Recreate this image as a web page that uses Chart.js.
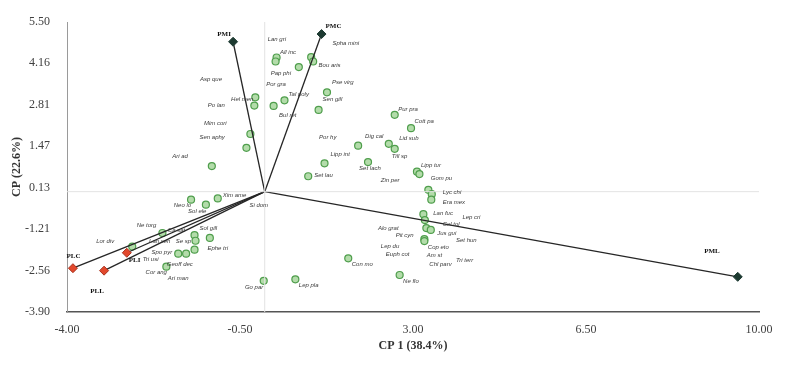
<!DOCTYPE html>
<html>
<head>
<meta charset="utf-8">
<script src="https://cdn.jsdelivr.net/npm/chart.js@4.4.1/dist/chart.umd.min.js"></script>
<style>
  html, body { margin: 0; padding: 0; background: #ffffff; }
  #wrap { width: 787px; height: 367px; }
</style>
</head>
<body>
<div id="wrap"><canvas id="biplot" width="787" height="367"></canvas></div>
<script>
// axis ticks
const xTicks = [-4.00, -0.50, 3.00, 6.50, 10.00];
const yTicks = [-3.90, -2.56, -1.21, 0.13, 1.47, 2.81, 4.16, 5.50];

// species scores (CP1, CP2)
const speciesX = [-0.19, -0.21, -0.29, -0.37, -1.07, 0.24, 0.22, 0.69, 0.94, 0.98,
  0.40, 0.18, 1.26, 1.09, 2.63, 2.96, 1.89, 2.51, 2.63, 1.21,
  0.88, 2.09, 3.08, 3.13, 3.31, 3.38, 3.37, 3.21, 3.24, 3.27,
  3.36, 3.23, 3.23, 2.73, 1.69, 0.62, -0.02, -0.95, -1.49, -1.19,
  -2.07, -1.42, -1.40, -1.11, -1.42, -1.75, -1.59, -2.68, -1.99];
const speciesY = [3.06, 2.79, 1.87, 1.42, 0.83, 4.35, 4.22, 4.04, 4.36, 4.22,
  2.96, 2.78, 3.22, 2.65, 2.49, 2.06, 1.49, 1.55, 1.39, 0.92,
  0.50, 0.96, 0.65, 0.57, 0.06, -0.08, -0.26, -0.73, -0.92, -1.18,
  -1.24, -1.54, -1.60, -2.70, -2.16, -2.84, -2.89, -0.22, -0.26, -0.42,
  -1.34, -1.41, -1.59, -1.50, -1.88, -2.01, -2.01, -1.78, -2.43];

// species labels and where they sit
const labelText = ["Asp que", "Po lan", "Hel men", "Mim cori", "Sen aphy", "Ari ad", "Lan gri", "All inc",
  "Spha mini", "Pap phi", "Bou aris", "Por gra", "Pse virg", "Tal poly", "Sen gill", "Bul ret",
  "Por hy", "Dig cal", "Lipp int", "Set lach", "Set lau", "Pur pra", "Cott pa", "Lid sub",
  "Till sp", "Zin per", "Lipp tur", "Gom pu", "Lyc chi", "Era mex", "Lan fuc", "Lep cri",
  "Cel tol", "Jus gui", "Set hun", "Cop eto", "Am st", "Chl parv", "Tri terr", "Ne flo",
  "Alo grat", "Pit cyn", "Lep du", "Euph cot", "Con mo", "Lep pla", "Go par", "Si dom",
  "Xim ame", "Neo lo", "Sol ele", "Ne torg", "Ca sat", "Sol gill", "Lor div", "Lan sen",
  "Se sp", "Spo pyr", "Ephe tri", "Tri usi", "Geoff dec", "Cor ang", "Ari man"];
const labelX = [-1.31, -1.15, -0.68, -1.23, -1.32, -1.87, 0.06, 0.31,
  1.37, 0.12, 1.09, 0.03, 1.36, 0.48, 1.17, 0.29,
  1.10, 2.03, 1.33, 1.91, 1.00, 2.70, 3.03, 2.72,
  2.57, 2.35, 3.16, 3.36, 3.60, 3.60, 3.41, 4.00,
  3.60, 3.49, 3.87, 3.30, 3.28, 3.33, 3.87, 2.80,
  2.29, 2.65, 2.35, 2.45, 1.76, 0.69, -0.40, -0.31,
  -0.85, -1.84, -1.55, -2.59, -1.96, -1.32, -3.41, -2.34,
  -1.80, -2.29, -1.16, -2.47, -1.98, -2.41, -1.96];
const labelY = [3.65, 2.79, 3.00, 2.20, 1.77, 1.15, 4.94, 4.51,
  4.81, 3.84, 4.08, 3.49, 3.53, 3.14, 3.00, 2.49,
  1.76, 1.81, 1.22, 0.76, 0.52, 2.67, 2.27, 1.73,
  1.13, 0.38, 0.86, 0.44, -0.02, -0.36, -0.70, -0.84,
  -1.05, -1.36, -1.59, -1.79, -2.06, -2.34, -2.21, -2.89,
  -1.20, -1.43, -1.77, -2.04, -2.34, -3.03, -3.10, -0.44,
  -0.11, -0.43, -0.63, -1.08, -1.24, -1.19, -1.61, -1.60,
  -1.60, -1.96, -1.85, -2.19, -2.35, -2.63, -2.82];

// variable vectors
const vectorNames = ["PMI", "PMC", "PML", "PLC", "PLL", "PLI"];
const vectorX = [-0.64, 1.15, 9.57, -3.88, -3.25, -2.79];
const vectorY = [4.86, 5.11, -2.76, -2.48, -2.56, -1.98];
const vectorLabelX = [-0.96, 1.23, 8.89, -4.01, -3.53, -2.75];
const vectorLabelY = [5.10, 5.35, -1.92, -2.08, -3.22, -2.21];

const palette = {
  pointFill: "#b3dcaa",
  pointEdge: "#4f9e4c",
  dark: "#1d3a31",
  red: "#e2482c",
  redEdge: "#a8321e",
  line: "#262626",
  zero: "#e3e3e3",
  text: "#3a3a3a"
};

function vectorDatasets() {
  return vectorNames.map((name, i) => ({
    label: name,
    data: [{ x: 0, y: 0 }, { x: vectorX[i], y: vectorY[i] }],
    showLine: true,
    borderColor: palette.line,
    borderWidth: 1.3,
    pointRadius: [0, 4.5],
    pointStyle: "rectRot",
    pointBackgroundColor: i < 3 ? palette.dark : palette.red,
    pointBorderColor: i < 3 ? palette.dark : palette.redEdge,
    pointBorderWidth: 1
  }));
}

const textPlugin = {
  id: "biplotText",
  afterDatasetsDraw(chart) {
    const { ctx, scales: { x, y } } = chart;
    ctx.save();
    ctx.textAlign = "left";
    ctx.textBaseline = "middle";
    ctx.fillStyle = palette.text;
    ctx.font = "italic 6px 'Liberation Sans'";
    labelText.forEach((text, i) => {
      ctx.fillText(text, x.getPixelForValue(labelX[i]), y.getPixelForValue(labelY[i]));
    });
    ctx.fillStyle = "#111";
    ctx.font = "bold 7px 'Liberation Serif'";
    vectorNames.forEach((name, i) => {
      ctx.fillText(name, x.getPixelForValue(vectorLabelX[i]), y.getPixelForValue(vectorLabelY[i]));
    });
    ctx.restore();
  }
};

const tickFont = { family: "'Liberation Serif'", size: 12 };
const titleFont = { family: "'Liberation Serif'", size: 12, weight: "bold" };

new Chart(document.getElementById("biplot"), {
  type: "scatter",
  data: {
    datasets: [
      {
        label: "zero x",
        data: [{ x: 0, y: -3.9 }, { x: 0, y: 5.5 }],
        showLine: true,
        borderColor: palette.zero,
        borderWidth: 1,
        pointRadius: 0
      },
      {
        label: "zero y",
        data: [{ x: -4, y: 0 }, { x: 10, y: 0 }],
        showLine: true,
        borderColor: palette.zero,
        borderWidth: 1,
        pointRadius: 0
      },
      ...vectorDatasets(),
      {
        label: "species",
        data: speciesX.map((v, i) => ({ x: v, y: speciesY[i] })),
        pointRadius: 3.5,
        pointBackgroundColor: palette.pointFill,
        pointBorderColor: palette.pointEdge,
        pointBorderWidth: 1.2
      }
    ]
  },
  options: {
    responsive: false,
    animation: false,
    layout: { padding: { left: 6, right: 28, top: 22, bottom: 10 } },
    plugins: {
      legend: { display: false },
      tooltip: { enabled: false }
    },
    scales: {
      x: {
        type: "linear",
        min: -4,
        max: 10,
        afterBuildTicks: (scale) => { scale.ticks = xTicks.map((v) => ({ value: v })); },
        afterFit: (scale) => { scale.height = 45; },
        ticks: {
          callback: (v) => Number(v).toFixed(2),
          font: tickFont,
          color: "#404040",
          padding: 3,
          maxRotation: 0
        },
        grid: { display: false },
        border: { display: true, color: "#555555", width: 1.6 },
        title: { display: true, text: "CP 1 (38.4%)", font: titleFont, color: "#333333" }
      },
      y: {
        type: "linear",
        min: -3.9,
        max: 5.5,
        afterBuildTicks: (scale) => { scale.ticks = yTicks.map((v) => ({ value: v })); },
        afterFit: (scale) => { scale.width = 61; },
        ticks: {
          callback: (v) => Number(v).toFixed(2),
          font: tickFont,
          color: "#404040",
          padding: 9
        },
        grid: { display: false },
        border: { display: true, color: "#9a9a9a", width: 1 },
        title: { display: true, text: "CP (22.6%)", font: titleFont, color: "#333333" }
      }
    }
  },
  plugins: [textPlugin]
});
</script>
</body>
</html>
